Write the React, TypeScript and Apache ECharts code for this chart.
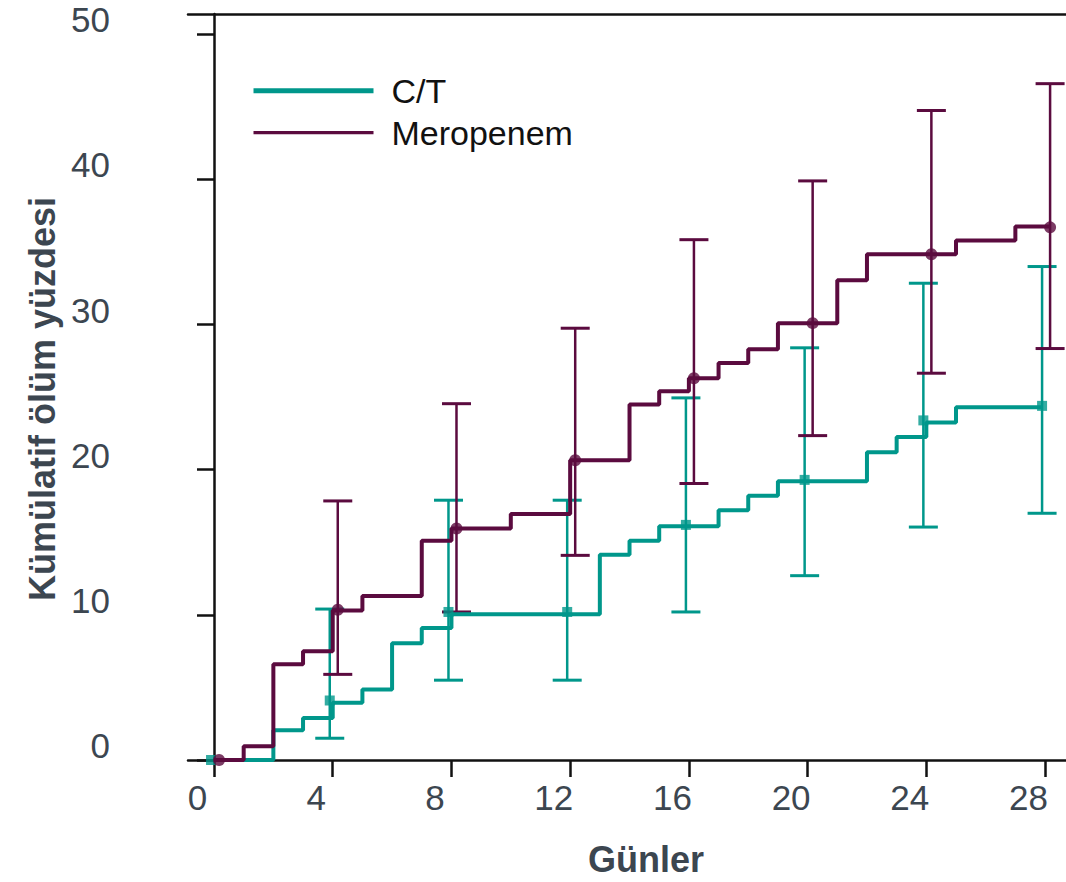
import React, { useEffect, useRef } from "react";
import * as echarts from "echarts";

// ---- data ----
const tickDays = [0, 4, 8, 12, 16, 20, 24, 28];
const yTicks = [0, 10, 20, 30, 40, 50];

const ctStepDays = [0, 2, 3, 4, 5, 6, 7, 8, 13, 14, 15, 17, 18, 19, 22, 23, 24, 25, 27.9];
const ctStepValues = [0, 2.05, 2.9, 3.95, 4.85, 8.05, 9.1, 10.05, 14.15, 15.1, 16.1, 17.2, 18.2, 19.2, 21.2, 22.25, 23.25, 24.3, 24.3];

const meroStepDays = [0, 1, 2, 3, 4, 5, 7, 8, 10, 12, 14, 15, 16, 17, 18, 19, 21, 22, 25, 27, 28.2];
const meroStepValues = [0, 0.95, 6.6, 7.5, 10.3, 11.3, 15.1, 15.95, 16.95, 20.65, 24.5, 25.4, 26.3, 27.35, 28.3, 30.1, 33.05, 34.85, 35.8, 36.75, 36.75];

const pointDays = [0, 4, 8, 12, 16, 20, 24, 28];
const ctPoint = [0, 4.1, 10.2, 10.2, 16.2, 19.3, 23.4, 24.4];
const ctLow = [null, 1.5, 5.5, 5.5, 10.2, 12.7, 16.05, 17.0];
const ctHigh = [null, 10.4, 17.9, 17.9, 24.95, 28.4, 32.85, 34.0];

const meroPoint = [0, 10.35, 15.95, 20.65, 26.3, 30.1, 34.85, 36.7];
const meroLow = [null, 5.9, 10.2, 14.1, 19.05, 22.35, 26.65, 28.35];
const meroHigh = [null, 17.85, 24.55, 29.75, 35.85, 39.9, 44.75, 46.6];

// ---- styles ----
const TEAL = "#00978b";
const MAROON = "#5b0b3f";
const LABEL = "#3c4650";
const FONT = "'Liberation Sans', Arial, Helvetica, sans-serif";
const CT_DODGE = -0.1;
const MERO_DODGE = 0.17;

function zip(xs: number[], ys: number[], dx = 0) {
  return xs.map((x, i) => [x + dx, ys[i]]);
}

function errorSeries(name: string, lows: (number | null)[], highs: (number | null)[], dodge: number, color: string) {
  const data: number[][] = [];
  pointDays.forEach((d, i) => {
    if (lows[i] != null && highs[i] != null) data.push([d + dodge, lows[i] as number, highs[i] as number]);
  });
  return {
    type: "custom",
    name,
    data,
    encode: { x: 0, y: [1, 2] },
    renderItem: (params: any, api: any) => {
      const x = api.value(0);
      const lo = api.coord([x, api.value(1)]);
      const hi = api.coord([x, api.value(2)]);
      const hw = 14.5;
      return {
        type: "group",
        children: [
          { type: "line", shape: { x1: lo[0], y1: lo[1], x2: hi[0], y2: hi[1] }, style: { stroke: color, lineWidth: 2.5 } },
          { type: "line", shape: { x1: lo[0] - hw, y1: lo[1], x2: lo[0] + hw, y2: lo[1] }, style: { stroke: color, lineWidth: 3 } },
          { type: "line", shape: { x1: hi[0] - hw, y1: hi[1], x2: hi[0] + hw, y2: hi[1] }, style: { stroke: color, lineWidth: 3 } },
        ],
      };
    },
  };
}

export default function App() {
  const ref = useRef<HTMLDivElement>(null);
  useEffect(() => {
    if (!ref.current) return;
    const chart = echarts.init(ref.current, undefined, { renderer: "svg" });
    const axisLineStyle = { color: "#111", width: 2.5 };
    chart.setOption({
      animation: false,
      backgroundColor: "#ffffff",
      grid: { left: 188, right: 0, top: 14, bottom: 114, containLabel: false },
      legend: {
        orient: "vertical",
        left: 251,
        top: 72.7,
        padding: 0,
        itemWidth: 120,
        itemHeight: 14,
        itemGap: 6,
        textStyle: { fontSize: 34, fontFamily: FONT, color: "#111", lineHeight: 36, padding: [0, 0, 0, 13] },
        data: [
          { name: "C/T", lineStyle: { width: 5 }, itemStyle: { opacity: 0 } },
          { name: "Meropenem", lineStyle: { width: 3.3 }, itemStyle: { opacity: 0 } },
        ],
      },
      xAxis: [
        {
          type: "value",
          min: -0.876,
          max: 28.706,
          axisLine: { show: true, lineStyle: axisLineStyle },
          axisTick: { show: true, customValues: tickDays, length: 17, lineStyle: axisLineStyle },
          axisLabel: {
            customValues: tickDays,
            fontSize: 35,
            fontFamily: FONT,
            color: LABEL,
            margin: 20,
            padding: [0, 33, 0, 0],
          },
          splitLine: { show: false },
          name: "Günler",
          nameLocation: "middle",
          nameGap: 81,
          nameTextStyle: { fontSize: 36, fontWeight: "bold", fontFamily: FONT, color: LABEL, padding: [0, 0, 0, 38] },
        },
        {
          type: "value",
          position: "top",
          min: -0.876,
          max: 28.706,
          axisLine: { show: true, onZero: false, lineStyle: axisLineStyle },
          axisTick: { show: false },
          axisLabel: { show: false },
          splitLine: { show: false },
        },
      ],
      yAxis: {
        type: "value",
        min: 0,
        max: 51.4,
        axisLine: { show: true, lineStyle: axisLineStyle },
        axisTick: { show: true, customValues: yTicks, length: 17, lineStyle: axisLineStyle },
        axisLabel: {
          customValues: yTicks,
          fontSize: 35,
          fontFamily: FONT,
          color: LABEL,
          margin: 78,
          verticalAlign: "bottom",
          lineHeight: 29,
        },
        splitLine: { show: false },
        name: "Kümülatif ölüm yüzdesi",
        nameLocation: "middle",
        nameRotate: 90,
        nameGap: 108,
        nameTextStyle: { fontSize: 36, fontWeight: "bold", fontFamily: FONT, color: LABEL, padding: [0, 24, 0, 0] },
      },
      series: [
        {
          type: "line",
          name: "C/T",
          step: "end",
          data: zip(ctStepDays, ctStepValues),
          symbol: "none",
          lineStyle: { color: TEAL, width: 4 },
          itemStyle: { color: TEAL },
          z: 2,
        },
        errorSeries("C/T CI", ctLow, ctHigh, CT_DODGE, TEAL),
        {
          type: "scatter",
          name: "C/T points",
          data: zip(pointDays, ctPoint, CT_DODGE),
          symbol: "rect",
          symbolSize: 10,
          itemStyle: { color: TEAL },
          z: 3,
        },
        {
          type: "line",
          name: "Meropenem",
          step: "end",
          data: zip(meroStepDays, meroStepValues),
          symbol: "none",
          lineStyle: { color: MAROON, width: 4 },
          itemStyle: { color: MAROON },
          z: 4,
        },
        errorSeries("Meropenem CI", meroLow, meroHigh, MERO_DODGE, MAROON),
        {
          type: "scatter",
          name: "Meropenem points",
          data: zip(pointDays, meroPoint, MERO_DODGE),
          symbol: "circle",
          symbolSize: 12,
          itemStyle: { color: MAROON },
          z: 5,
        },
      ],
    });
    return () => chart.dispose();
  }, []);
  return <div ref={ref} style={{ position: "fixed", left: 0, top: 0, width: 1066, height: 882 }} />;
}
